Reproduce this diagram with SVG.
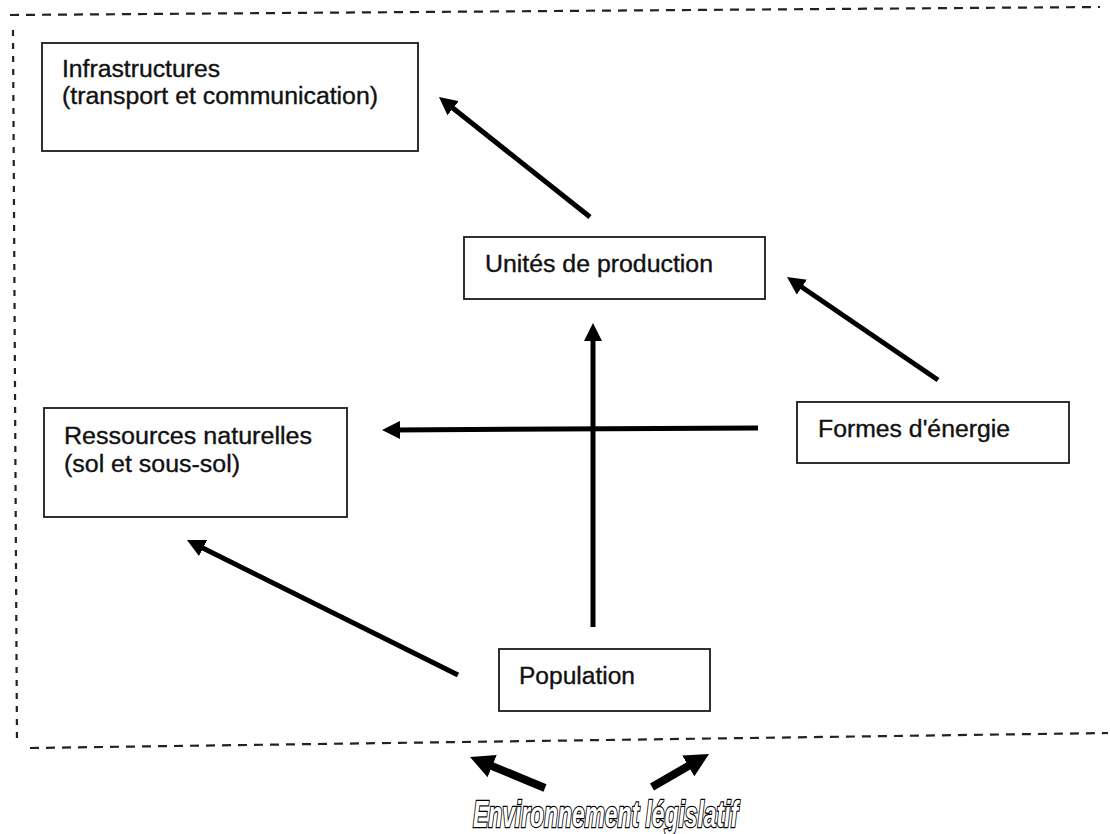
<svg xmlns="http://www.w3.org/2000/svg" width="1110" height="834" viewBox="0 0 1110 834">
<style>
.box{fill:#fff;stroke:#1a1a1a;stroke-width:1.8}
.lbl{font-family:"Liberation Sans",Arial,sans-serif;font-size:23px;fill:#111;stroke:#111;stroke-width:0.35}
.dash-h{fill:none;stroke:#222;stroke-width:2.2;stroke-dasharray:9 7}
.dash-v{fill:none;stroke:#222;stroke-width:2.2;stroke-dasharray:6 7}
.arr{fill:none;stroke:#000;stroke-width:5}
.arr-big{fill:none;stroke:#000;stroke-width:8}
.title{font-family:"Liberation Sans",Arial,sans-serif;font-weight:bold;font-style:italic;font-size:37px;fill:#fff;stroke:#000;stroke-width:2.6;paint-order:stroke}
</style>
<defs>
<marker id="ah" markerUnits="userSpaceOnUse" markerWidth="18" markerHeight="18" viewBox="0 0 18 18" refX="6" refY="9" orient="auto">
<path d="M0,0 L18,9 L0,18 z" fill="#000"/>
</marker>
<marker id="ahBig" markerUnits="userSpaceOnUse" markerWidth="24" markerHeight="24" viewBox="0 0 24 24" refX="8" refY="12" orient="auto">
<path d="M0,0 L24,12 L0,24 z" fill="#000"/>
</marker>
</defs>
<rect x="0" y="0" width="1110" height="834" fill="#fff"/>
<g id="frame">
<line class="dash-h" x1="10" y1="15" x2="1100" y2="7"/>
<line class="dash-v" x1="13" y1="30" x2="17" y2="745"/>
<line class="dash-h" x1="30" y1="748" x2="1108" y2="733"/>
</g>
<g id="connectors">
<line class="arr" x1="590" y1="217" x2="448.4" y2="104.5" marker-end="url(#ah)"/>
<line class="arr" x1="938" y1="380" x2="796.9" y2="283.8" marker-end="url(#ah)"/>
<line class="arr" x1="758" y1="428" x2="394" y2="430" marker-end="url(#ah)"/>
<line class="arr" x1="593" y1="627" x2="593" y2="335" marker-end="url(#ah)"/>
<line class="arr" x1="458" y1="675" x2="197.7" y2="545.4" marker-end="url(#ah)"/>
<line class="arr-big" x1="545" y1="788" x2="484.8" y2="763.1" marker-end="url(#ahBig)"/>
<line class="arr-big" x1="652" y1="787" x2="695.2" y2="762" marker-end="url(#ahBig)"/>
</g>
<g id="infrastructures">
<rect class="box" x="42" y="43" width="376" height="108"/>
<text class="lbl" x="62" y="77" textLength="158" lengthAdjust="spacingAndGlyphs">Infrastructures</text>
<text class="lbl" x="62" y="104" textLength="316" lengthAdjust="spacingAndGlyphs">(transport et communication)</text>
</g>
<g id="unites">
<rect class="box" x="464" y="237" width="301" height="62"/>
<text class="lbl" x="485" y="272" textLength="228" lengthAdjust="spacingAndGlyphs">Unités de production</text>
</g>
<g id="formes">
<rect class="box" x="797" y="402" width="272" height="61"/>
<text class="lbl" x="818" y="437" textLength="192" lengthAdjust="spacingAndGlyphs">Formes d'énergie</text>
</g>
<g id="ressources">
<rect class="box" x="44" y="408" width="303" height="109"/>
<text class="lbl" x="64" y="444" textLength="248" lengthAdjust="spacingAndGlyphs">Ressources naturelles</text>
<text class="lbl" x="64" y="472" textLength="176" lengthAdjust="spacingAndGlyphs">(sol et sous-sol)</text>
</g>
<g id="population">
<rect class="box" x="499" y="649" width="211" height="62"/>
<text class="lbl" x="519" y="684" textLength="116" lengthAdjust="spacingAndGlyphs">Population</text>
</g>
<g id="environnement">
<text class="title" x="473" y="827" textLength="265" lengthAdjust="spacingAndGlyphs">Environnement législatif</text>
</g>
</svg>
